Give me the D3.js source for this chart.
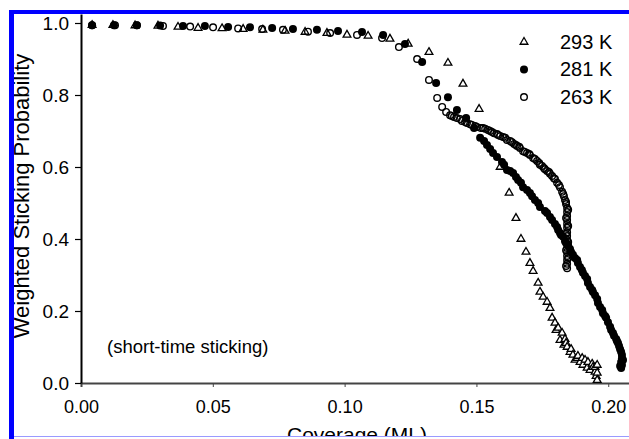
<!DOCTYPE html>
<html>
<head>
<meta charset="utf-8">
<script src="https://cdn.jsdelivr.net/npm/d3@7"></script>
<style>
  body { margin: 0; background: #fff; }
  svg { display: block; font-family: "Liberation Sans", Arial, sans-serif; }
</style>
</head>
<body>
<svg id="chart" width="629" height="439"></svg>
<script>
// coverage (ML) / weighted sticking probability
const t293 = [
  [0.0042, 0.994], [0.0121, 0.994], [0.0205, 0.993], [0.0292, 0.992], [0.0368, 0.989],
  [0.0444, 0.986], [0.0535, 0.985], [0.0615, 0.983], [0.0690, 0.981], [0.0774, 0.978],
  [0.0850, 0.975], [0.0933, 0.972], [0.1009, 0.967], [0.1089, 0.964], [0.1172, 0.956],
  [0.1241, 0.942], [0.1320, 0.919], [0.1392, 0.889], [0.1449, 0.831], [0.1510, 0.761],
  [0.1590, 0.600], [0.1624, 0.528], [0.1650, 0.458], [0.1669, 0.400], [0.1688, 0.364],
  [0.1703, 0.333], [0.1715, 0.311], [0.1734, 0.278], [0.1741, 0.253], [0.1753, 0.239],
  [0.1768, 0.225], [0.1779, 0.208], [0.1787, 0.181], [0.1798, 0.167], [0.1802, 0.147],
  [0.1810, 0.153], [0.1817, 0.119], [0.1825, 0.139], [0.1832, 0.106], [0.1836, 0.122],
  [0.1840, 0.111], [0.1844, 0.100], [0.1855, 0.086], [0.1859, 0.094], [0.1866, 0.078],
  [0.1874, 0.064], [0.1882, 0.069], [0.1885, 0.075], [0.1893, 0.058], [0.1901, 0.069],
  [0.1904, 0.050], [0.1912, 0.064], [0.1920, 0.042], [0.1923, 0.058], [0.1931, 0.036],
  [0.1939, 0.053], [0.1942, 0.044], [0.1950, 0.031], [0.1950, 0.044], [0.1954, 0.019],
  [0.1958, 0.050], [0.1958, 0.028], [0.1958, 0.008]
];

const t281 = [
  [0.0042, 0.994], [0.0125, 0.994], [0.0212, 0.994], [0.0300, 0.993], [0.0387, 0.992],
  [0.0470, 0.992], [0.0558, 0.989], [0.0641, 0.988], [0.0725, 0.986], [0.0804, 0.983],
  [0.0895, 0.981], [0.0975, 0.978], [0.1066, 0.975], [0.1146, 0.967], [0.1229, 0.942],
  [0.1294, 0.892], [0.1347, 0.833], [0.1392, 0.794], [0.1426, 0.758], [0.1461, 0.736],
  [0.1491, 0.708], [0.1514, 0.681], [0.1529, 0.672], [0.1540, 0.661], [0.1552, 0.650],
  [0.1563, 0.639], [0.1578, 0.628], [0.1597, 0.614], [0.1605, 0.606], [0.1616, 0.592],
  [0.1628, 0.589], [0.1639, 0.583], [0.1650, 0.572], [0.1658, 0.564], [0.1669, 0.556],
  [0.1677, 0.544], [0.1692, 0.536], [0.1703, 0.528], [0.1711, 0.519], [0.1722, 0.508],
  [0.1734, 0.500], [0.1741, 0.489], [0.1760, 0.478], [0.1768, 0.472], [0.1779, 0.461],
  [0.1787, 0.453], [0.1798, 0.442], [0.1806, 0.433], [0.1810, 0.425], [0.1817, 0.417],
  [0.1821, 0.411], [0.1829, 0.406], [0.1836, 0.394], [0.1840, 0.389], [0.1848, 0.381],
  [0.1855, 0.372], [0.1859, 0.364], [0.1866, 0.356], [0.1874, 0.347], [0.1882, 0.342],
  [0.1885, 0.333], [0.1893, 0.322], [0.1900, 0.314], [0.1904, 0.306], [0.1912, 0.297],
  [0.1920, 0.289], [0.1923, 0.278], [0.1931, 0.267], [0.1939, 0.258], [0.1942, 0.253],
  [0.1950, 0.244], [0.1958, 0.233], [0.1961, 0.222], [0.1969, 0.211], [0.1977, 0.203],
  [0.1980, 0.194], [0.1988, 0.186], [0.1992, 0.181], [0.1999, 0.169], [0.2007, 0.156],
  [0.2011, 0.147], [0.2018, 0.139], [0.2022, 0.131], [0.2030, 0.122], [0.2033, 0.117],
  [0.2037, 0.111], [0.2041, 0.103], [0.2045, 0.094], [0.2049, 0.086], [0.2052, 0.078],
  [0.2052, 0.069], [0.2056, 0.064], [0.2049, 0.058], [0.2052, 0.050], [0.2045, 0.047],
  [0.2049, 0.042]
];

const t263 = [
  [0.0042, 0.994], [0.0129, 0.994], [0.0212, 0.994], [0.0311, 0.992], [0.0414, 0.990],
  [0.0501, 0.988], [0.0596, 0.985], [0.0687, 0.983], [0.0766, 0.981], [0.0861, 0.976],
  [0.0945, 0.972], [0.1047, 0.967], [0.1142, 0.958], [0.1206, 0.933], [0.1275, 0.900],
  [0.1320, 0.842], [0.1351, 0.792], [0.1370, 0.767], [0.1385, 0.753], [0.1400, 0.744],
  [0.1407, 0.742], [0.1415, 0.739], [0.1426, 0.736], [0.1438, 0.733], [0.1445, 0.728],
  [0.1457, 0.725], [0.1464, 0.722], [0.1476, 0.719], [0.1483, 0.717], [0.1495, 0.714],
  [0.1502, 0.711], [0.1517, 0.708], [0.1525, 0.708], [0.1533, 0.706], [0.1544, 0.703],
  [0.1552, 0.700], [0.1559, 0.697], [0.1567, 0.694], [0.1578, 0.692], [0.1582, 0.689],
  [0.1590, 0.686], [0.1601, 0.683], [0.1609, 0.681], [0.1616, 0.675], [0.1628, 0.672],
  [0.1635, 0.669], [0.1643, 0.664], [0.1650, 0.661], [0.1654, 0.658], [0.1662, 0.656],
  [0.1665, 0.653], [0.1677, 0.644], [0.1684, 0.642], [0.1692, 0.639], [0.1700, 0.636],
  [0.1703, 0.633], [0.1715, 0.625], [0.1722, 0.622], [0.1730, 0.617], [0.1738, 0.611],
  [0.1741, 0.606], [0.1749, 0.603], [0.1756, 0.597], [0.1760, 0.594], [0.1768, 0.589],
  [0.1775, 0.586], [0.1779, 0.581], [0.1787, 0.575], [0.1794, 0.569], [0.1798, 0.567],
  [0.1806, 0.556], [0.1813, 0.550], [0.1817, 0.544], [0.1825, 0.531], [0.1829, 0.525],
  [0.1832, 0.519], [0.1836, 0.508], [0.1840, 0.503], [0.1840, 0.497], [0.1844, 0.486],
  [0.1848, 0.481], [0.1844, 0.475], [0.1844, 0.464], [0.1840, 0.458], [0.1844, 0.453],
  [0.1844, 0.442], [0.1848, 0.436], [0.1844, 0.431], [0.1844, 0.419], [0.1840, 0.414],
  [0.1844, 0.408], [0.1844, 0.397], [0.1848, 0.392], [0.1844, 0.386], [0.1844, 0.375],
  [0.1840, 0.369], [0.1844, 0.364], [0.1844, 0.353], [0.1848, 0.347], [0.1844, 0.342],
  [0.1844, 0.331], [0.1840, 0.325], [0.1844, 0.319]
];

const xTicks = [0, 0.05, 0.10, 0.15, 0.20];
const yTicks = [0, 0.2, 0.4, 0.6, 0.8, 1.0];
const legendLabels = ["293 K", "281 K", "263 K"];

const svg = d3.select("#chart");

const x = d3.scaleLinear().domain([0, 0.21]).range([81, 634.6]);
const y = d3.scaleLinear().domain([0, 1.025]).range([383, 14]);

// axes
const xAxis = svg.append("g")
    .attr("transform", "translate(0,383)")
    .call(d3.axisBottom(x).tickValues(xTicks).tickFormat(d3.format(".2f")).tickSize(4).tickPadding(13));
xAxis.select(".domain").attr("stroke", "#444").attr("stroke-width", 2);
xAxis.selectAll(".tick line").attr("stroke", "#444").attr("stroke-width", 1);
xAxis.selectAll("text").attr("font-size", 18).attr("fill", "#000").attr("font-family", "Liberation Sans, Arial, sans-serif");

const yAxis = svg.append("g")
    .attr("transform", "translate(81,0)")
    .call(d3.axisLeft(y).tickValues(yTicks).tickFormat(d3.format(".1f")).tickSize(6).tickSizeOuter(0).tickPadding(6));
yAxis.select(".domain").attr("stroke", "#000").attr("stroke-width", 2);
yAxis.selectAll(".tick line").attr("stroke", "#000").attr("stroke-width", 1.2);
yAxis.selectAll("text").attr("font-size", 19).attr("fill", "#000").attr("font-family", "Liberation Sans, Arial, sans-serif");

// markers
const tri = d3.symbol().type(d3.symbolTriangle).size(26);

svg.append("g").selectAll("path")
    .data(t293)
    .join("path")
    .attr("d", tri)
    .attr("transform", d => `translate(${x(d[0])},${y(d[1])})`)
    .attr("fill", "#fff")
    .attr("stroke", "#000")
    .attr("stroke-width", 1.3);

svg.append("g").selectAll("circle")
    .data(t281)
    .join("circle")
    .attr("cx", d => x(d[0]))
    .attr("cy", d => y(d[1]))
    .attr("r", 4)
    .attr("fill", "#000");

svg.append("g").selectAll("circle")
    .data(t263)
    .join("circle")
    .attr("cx", d => x(d[0]))
    .attr("cy", d => y(d[1]))
    .attr("r", 3.3)
    .attr("fill", "none")
    .attr("stroke", "#000")
    .attr("stroke-width", 1.4);

// legend
const legend = svg.append("g");
legendLabels.forEach((label, i) => {
    const ly = 42 + i * 27.5;
    if (i === 0) {
        legend.append("path").attr("d", tri).attr("transform", `translate(524,${ly})`)
            .attr("fill", "#fff").attr("stroke", "#000").attr("stroke-width", 1.3);
    } else if (i === 1) {
        legend.append("circle").attr("cx", 524).attr("cy", ly).attr("r", 4).attr("fill", "#000");
    } else {
        legend.append("circle").attr("cx", 524).attr("cy", ly).attr("r", 3.3)
            .attr("fill", "none").attr("stroke", "#000").attr("stroke-width", 1.4);
    }
    legend.append("text")
        .attr("x", 560)
        .attr("y", ly + 6.5)
        .attr("font-size", 20)
        .text(label);
});

svg.append("text")
    .attr("x", 107)
    .attr("y", 353)
    .attr("font-size", 18.5)
    .text("(short-time sticking)");

// axis titles
svg.append("text")
    .attr("transform", "translate(29,196) rotate(-90)")
    .attr("text-anchor", "middle")
    .attr("font-size", 22)
    .text("Weighted Sticking Probability");

svg.append("text")
    .attr("x", 357)
    .attr("y", 442)
    .attr("text-anchor", "middle")
    .attr("font-size", 21)
    .text("Coverage (ML)");

// frame
svg.append("rect").attr("x", 9).attr("y", 437).attr("width", 620).attr("height", 2).attr("fill", "#fff");
svg.append("rect").attr("x", 9).attr("y", 436).attr("width", 620).attr("height", 1).attr("fill", "#9a9aff");
svg.append("rect").attr("x", 9).attr("y", 10).attr("width", 620).attr("height", 4).attr("fill", "#0000ff");
svg.append("rect").attr("x", 9).attr("y", 10).attr("width", 5).attr("height", 429).attr("fill", "#0000ff");
</script>
</body>
</html>
